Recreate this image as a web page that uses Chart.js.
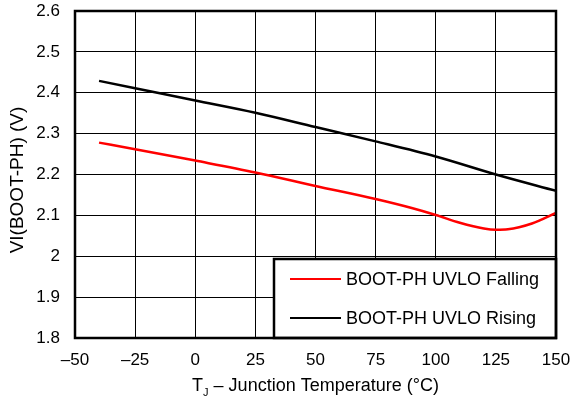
<!DOCTYPE html>
<html><head><meta charset="utf-8">
<script src="https://cdn.jsdelivr.net/npm/chart.js@4"></script>
<style>html,body{margin:0;padding:0;background:#fff}#w{width:572px;height:404px}</style>
</head><body><div id="w"><canvas id="c"></canvas></div>
<script>
const xTickLabels = {"-50":"–50","-25":"–25","0":"0","25":"25","50":"50","75":"75","100":"100","125":"125","150":"150"};
const fallingTemps = [-40, -25, 0, 25, 50, 75, 90, 100, 110, 120, 125, 130, 140, 150];
const fallingVals  = [2.278, 2.262, 2.234, 2.205, 2.172, 2.140, 2.118, 2.101, 2.082, 2.068, 2.065, 2.066, 2.080, 2.106];
const risingTemps = [-40, -25, 0, 25, 50, 75, 100, 125, 150];
const risingVals  = [2.429, 2.411, 2.381, 2.351, 2.316, 2.281, 2.244, 2.200, 2.160];
const seriesNames = ["BOOT-PH UVLO Falling", "BOOT-PH UVLO Rising"];
const yTitle = "VI(BOOT-PH) (V)";
const xTitleParts = ["T", "J", " – Junction Temperature (°C)"];
const FONT = "'Liberation Sans', Arial, sans-serif";

const legendPlugin = {
  id: 'boxLegend',
  afterDatasetsDraw(chart) {
    const ctx = chart.ctx, a = chart.chartArea;
    const x0 = 274, y0 = 259, x1 = a.right, y1 = a.bottom;
    ctx.save();
    ctx.fillStyle = '#fff';
    ctx.fillRect(x0, y0, x1 - x0, y1 - y0);
    ctx.lineWidth = 2.5; ctx.strokeStyle = '#000';
    ctx.strokeRect(x0, y0, x1 - x0, y1 - y0);
    ctx.font = '18px ' + FONT; ctx.textBaseline = 'middle';
    chart.data.datasets.forEach((ds, i) => {
      const y = y0 + 20 + i * 39;
      ctx.strokeStyle = ds.borderColor; ctx.lineWidth = 2;
      ctx.beginPath(); ctx.moveTo(290, y); ctx.lineTo(341, y); ctx.stroke();
      ctx.fillStyle = '#000';
      ctx.fillText(ds.label, 346, y + 1);
    });
    ctx.restore();
  },
  afterDraw(chart) {
    const ctx = chart.ctx, a = chart.chartArea;
    ctx.save();
    ctx.fillStyle = '#000';
    const big = '18px ' + FONT, small = '11px ' + FONT;
    ctx.font = big;
    const w0 = ctx.measureText(xTitleParts[0]).width;
    ctx.font = small;
    const w1 = ctx.measureText(xTitleParts[1]).width;
    ctx.font = big;
    const w2 = ctx.measureText(xTitleParts[2]).width;
    let x = (a.left + a.right) / 2 - (w0 + w1 + w2) / 2;
    const y = 386;
    ctx.textBaseline = 'middle';
    ctx.fillText(xTitleParts[0], x, y); x += w0;
    ctx.font = small;
    ctx.fillText(xTitleParts[1], x, y + 7); x += w1;
    ctx.font = big;
    ctx.fillText(xTitleParts[2], x, y);
    ctx.translate(18, 180);
    ctx.rotate(-Math.PI / 2);
    ctx.textAlign = 'center';
    ctx.font = '19px ' + FONT;
    ctx.fillText(yTitle, 0, 0);
    ctx.restore();
    ctx.save();
    ctx.lineWidth = 2.5; ctx.strokeStyle = '#000';
    ctx.strokeRect(a.left, a.top, a.right - a.left, a.bottom - a.top);
    ctx.restore();
  }
};

new Chart(document.getElementById('c'), {
  type: 'line',
  data: {
    datasets: [
      { label: seriesNames[0], data: fallingTemps.map((t, i) => ({x: t, y: fallingVals[i]})),
        borderColor: '#ff0000', borderWidth: 2.5, pointRadius: 0, cubicInterpolationMode: 'monotone', fill: false },
      { label: seriesNames[1], data: risingTemps.map((t, i) => ({x: t, y: risingVals[i]})),
        borderColor: '#000000', borderWidth: 2.5, pointRadius: 0, cubicInterpolationMode: 'monotone', fill: false }
    ]
  },
  options: {
    responsive: true, maintainAspectRatio: false, animation: false,
    layout: { padding: { top: 11, right: 16, left: 0, bottom: 0 } },
    plugins: { legend: { display: false }, tooltip: { enabled: false } },
    scales: {
      x: {
        type: 'linear', min: -50, max: 150,
        ticks: { stepSize: 25, color: '#000', font: { size: 17, family: FONT }, padding: 12,
          maxRotation: 0, callback: v => xTickLabels[String(v)] },
        grid: { color: '#000', lineWidth: 1, drawTicks: false },
        border: { display: false },
        afterFit: s => { s.height = 66; s.paddingLeft = 0; s.paddingRight = 0; }
      },
      y: {
        min: 1.8, max: 2.6,
        ticks: { stepSize: 0.1, color: '#000', font: { size: 17, family: FONT }, padding: 15,
          callback: v => String(Math.round(v * 10) / 10) },
        grid: { color: '#000', lineWidth: 1, drawTicks: false },
        border: { display: false },
        afterFit: s => { s.width = 75; s.paddingTop = 0; s.paddingBottom = 0; }
      }
    }
  },
  plugins: [legendPlugin]
});
</script></body></html>
